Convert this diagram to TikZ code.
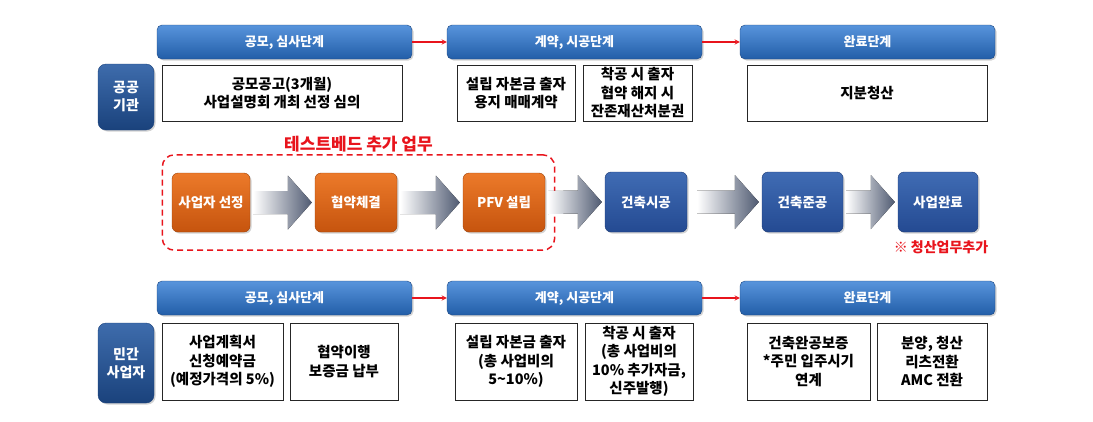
\documentclass[tikz,border=0pt]{standalone}
\usepackage{fontspec}
\setmainfont{Noto Sans CJK KR}
\usepackage{xcolor}
\usetikzlibrary{calc,fit,positioning,shadows}

\definecolor{phasetop}{RGB}{88,148,220}
\definecolor{phasebot}{RGB}{34,94,168}
\definecolor{phaseedge}{RGB}{30,72,130}
\definecolor{sidetop}{RGB}{62,108,172}
\definecolor{sidebot}{RGB}{26,66,124}
\definecolor{orgtop}{RGB}{236,122,42}
\definecolor{orgbot}{RGB}{198,84,14}
\definecolor{bluetop}{RGB}{64,108,180}
\definecolor{bluebot}{RGB}{36,74,146}
\definecolor{arrowdark}{RGB}{60,72,98}
\definecolor{testred}{RGB}{232,20,28}

\tikzstyle{phase}=[rectangle, rounded corners=5pt, draw=phaseedge, top color=phasetop, bottom color=phasebot, text=white, minimum width=255, minimum height=34, inner sep=0pt, font=\fontsize{13}{15}\selectfont\bfseries, drop shadow={opacity=0.35,shadow xshift=1.5pt,shadow yshift=-1.5pt}]
\tikzstyle{side}=[rectangle, rounded corners=8pt, draw=sidebot, top color=sidetop, bottom color=sidebot, text=white, align=center, minimum width=56, inner sep=0pt, font=\fontsize{14}{18}\selectfont\bfseries, drop shadow={opacity=0.35,shadow xshift=1.5pt,shadow yshift=-1.5pt}]
\tikzstyle{task}=[rectangle, draw=black!85, line width=0.8pt, fill=white, align=center, inner sep=0pt, font=\fontsize{14.5}{18.5}\selectfont\bfseries]
\tikzstyle{orgstep}=[rectangle, rounded corners=6pt, draw=orgbot!80!black, top color=orgtop, bottom color=orgbot, text=white, minimum height=59, inner sep=0pt, font=\fontsize{13.5}{15}\selectfont\bfseries, drop shadow={opacity=0.35,shadow xshift=1.5pt,shadow yshift=-1.5pt}]
\tikzstyle{bluestep}=[rectangle, rounded corners=6pt, draw=bluebot!80!black, top color=bluetop, bottom color=bluebot, text=white, minimum height=60, inner sep=0pt, font=\fontsize{13.5}{15}\selectfont\bfseries, drop shadow={opacity=0.35,shadow xshift=1.5pt,shadow yshift=-1.5pt}]
\tikzstyle{nextphase}=[line width=1.3pt, testred, ->, >=stealth]

% fat grey arrow: from node, to node, gap after the from node
\newcommand{\flowarrow}[3]{%
  \fill[left color=white, middle color=arrowdark!20, right color=arrowdark!90]
    ($(#1.east)+(#3,11.5)$) -- ($(#2.west)+(-27,11.5)$) -- ($(#2.west)+(-27,27)$)
    -- ($(#2.west)+(-3,0)$) -- ($(#2.west)+(-27,-27)$) -- ($(#2.west)+(-27,-11.5)$)
    -- ($(#1.east)+(#3,-11.5)$) -- cycle;}

\begin{document}
\begin{tikzpicture}[x=1pt,y=-1pt]
  \useasboundingbox (0,0) rectangle (1093,421);

  % public side
  \node[phase] (pubA) at (284.5,42) {공모, 심사단계};
  \node[phase] (pubB) at (574.5,42) {계약, 시공단계};
  \node[phase] (pubC) at (867.5,42) {완료단계};
  \draw[nextphase] (pubA.east) -- (pubB.west);
  \draw[nextphase] (pubB.east) -- (pubC.west);

  \node[side, minimum height=66] (pub) at (126,97) {공공\\기관};
  \node[task, minimum width=240, minimum height=56] (pubA1) at (282,93) {공모공고(3개월)\\사업설명회 개최 선정 심의};
  \node[task, minimum width=118, minimum height=56] (pubB1) at (516,93) {설립 자본금 출자\\용지 매매계약};
  \node[task, minimum width=109, minimum height=56] (pubB2) at (637.5,93) {착공 시 출자\\협약 해지 시\\잔존재산처분권};
  \node[task, minimum width=240, minimum height=56] (pubC1) at (867,93) {지분청산};

  % flow of the project
  \node[orgstep, minimum width=78] (sel) at (211,202.5) {사업자 선정};
  \node[orgstep, minimum width=82] (agr) at (356,202.5) {협약체결};
  \node[orgstep, minimum width=82] (pfv) at (504,202.5) {PFV 설립};
  \node[bluestep, minimum width=82] (con) at (646,202) {건축시공};
  \node[bluestep, minimum width=81] (fin) at (802.5,202) {건축준공};
  \node[bluestep, minimum width=80] (end) at (938,202) {사업완료};

  \node[fit=(sel)(agr)(pfv), inner xsep=9.5pt, inner ysep=18pt, draw=testred, line width=1.5pt, dash pattern=on 6pt off 4pt, rounded corners=12pt] (tb) {};
  \node[above=1pt of tb, inner sep=1pt, text=testred, font=\fontsize{17}{19}\selectfont\bfseries] (tbname) {테스트베드 추가 업무};

  \flowarrow{sel}{agr}{3}
  \flowarrow{agr}{pfv}{3}
  \flowarrow{pfv}{con}{3}
  \flowarrow{con}{fin}{10}
  \flowarrow{fin}{end}{3}

  \node[text=testred, font=\fontsize{14}{16}\selectfont\bfseries] (note) at (941,247) {※ 청산업무추가};

  % private side
  \node[phase] (prvA) at (284.5,298) {공모, 심사단계};
  \node[phase] (prvB) at (574.5,298) {계약, 시공단계};
  \node[phase] (prvC) at (867.5,298) {완료단계};
  \draw[nextphase] (prvA.east) -- (prvB.west);
  \draw[nextphase] (prvB.east) -- (prvC.west);

  \node[side, minimum height=80] (prv) at (126,363) {민간\\사업자};
  \node[task, minimum width=121, minimum height=77] (prvA1) at (222.5,361.5) {사업계획서\\신청예약금\\(예정가격의 5\%)};
  \node[task, minimum width=108, minimum height=77] (prvA2) at (344,361.5) {협약이행\\보증금 납부};
  \node[task, minimum width=122, minimum height=77] (prvB1) at (516,361.5) {설립 자본금 출자\\(총 사업비의\\5\textasciitilde10\%)};
  \node[task, minimum width=108, minimum height=77] (prvB2) at (639,361.5) {착공 시 출자\\(총 사업비의\\10\% 추가자금,\\신주발행)};
  \node[task, minimum width=123, minimum height=77] (prvC1) at (808.5,361.5) {건축완공보증\\*주민 입주시기\\연계};
  \node[task, minimum width=110, minimum height=77] (prvC2) at (932,361.5) {분양, 청산\\리츠전환\\AMC 전환};
\end{tikzpicture}
\end{document}
